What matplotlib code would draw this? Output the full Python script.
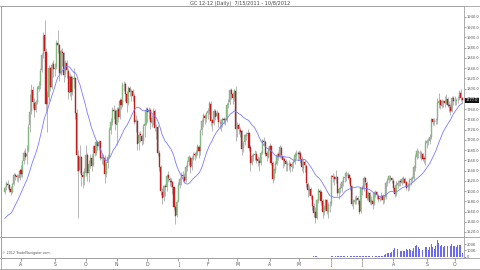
import numpy as np
import pandas as pd
import matplotlib
matplotlib.use("Agg")
import matplotlib.pyplot as plt
from matplotlib.lines import Line2D

# GC 12-12 daily, 7/15/2011 - 10/8/2012
holidays = ['2011-09-05', '2011-11-24', '2011-12-26', '2012-01-02', '2012-01-16',
            '2012-02-20', '2012-04-06', '2012-05-28', '2012-07-04', '2012-09-03']

# closes before the first bar, only used to seed the moving average
pre_closes = [1551, 1555, 1564, 1564, 1532, 1512, 1512, 1512, 1522, 1512, 1495, 1527,
              1540, 1542, 1554, 1558, 1575, 1597, 1598]

opens = [
    1598, 1607, 1614, 1611, 1603, 1599, 1614, 1631, 1630, 1627, 1626,
    1641, 1634, 1658, 1675, 1668, 1680, 1728, 1756, 1797, 1772, 1759, 1774, 1800, 1807, 1836, 1867, 1904, 1872, 1770, 1784, 1840, 1804, 1848,
    1838, 1842, 1890, 1885, 1831, 1872, 1869, 1828, 1851, 1835, 1792, 1823, 1794, 1819, 1820, 1752, 1668, 1641, 1666, 1632, 1627,
    1636, 1671, 1636, 1654, 1664, 1650, 1687, 1674, 1696, 1687, 1697, 1663, 1667, 1664, 1634, 1654, 1667, 1720, 1734, 1759, 1756,
    1729, 1760, 1744, 1777, 1769, 1807, 1809, 1789, 1771, 1802, 1793, 1796, 1785, 1734, 1737, 1693, 1711, 1708, 1698, 1727, 1731,
    1760, 1754, 1759, 1733, 1744, 1756, 1723, 1725, 1674, 1647, 1599, 1588, 1610, 1607, 1631, 1624, 1620, 1617, 1607, 1568, 1553,
    1580, 1611, 1625, 1631, 1628, 1621, 1646, 1656, 1665, 1648, 1663, 1672, 1669, 1675, 1686, 1679, 1719, 1735, 1747, 1742,
    1753, 1756, 1770, 1738, 1732, 1756, 1746, 1752, 1735, 1733, 1731, 1741, 1737, 1738, 1768, 1773, 1797, 1789, 1781, 1796,
    1723, 1729, 1720, 1717, 1684, 1695, 1708, 1711, 1713, 1686, 1655, 1668, 1671, 1672, 1662, 1658, 1655, 1675, 1698, 1695, 1674, 1667,
    1681, 1688, 1654, 1625, 1640, 1652, 1672, 1667, 1685, 1669, 1662, 1658, 1651, 1653, 1652, 1647, 1654, 1657, 1669, 1674,
    1675, 1674, 1663, 1645, 1656, 1649, 1614, 1601, 1604, 1591, 1570, 1559, 1547, 1582, 1601, 1599, 1581, 1559, 1567, 1583, 1560, 1572,
    1575, 1629, 1627, 1624, 1627, 1597, 1603, 1606, 1617, 1625, 1629, 1634, 1632, 1625, 1609, 1575, 1579, 1583, 1586, 1581, 1561,
    1605, 1603, 1625, 1616, 1586, 1596, 1579, 1581, 1575, 1595, 1598, 1591, 1585, 1586, 1590, 1582, 1589, 1615, 1622, 1628, 1626,
    1620, 1605, 1595, 1611, 1617, 1619, 1616, 1622, 1624, 1617, 1607, 1608, 1621, 1624, 1626, 1645, 1667, 1677, 1675, 1673, 1672, 1664, 1663,
    1693, 1697, 1697, 1705, 1740, 1734, 1736, 1738, 1771, 1777, 1767, 1774, 1776, 1771, 1779, 1768, 1765, 1757, 1781,
    1775, 1776, 1779, 1781, 1792, 1781,
]
highs = [
    1610, 1620, 1622, 1614, 1610, 1616, 1636, 1635, 1634, 1633, 1643,
    1650, 1660, 1680, 1684, 1690, 1730, 1790, 1810, 1805, 1782, 1778, 1805, 1815, 1840, 1870, 1910, 1935, 1880, 1795, 1846, 1842, 1852, 1855,
    1850, 1895, 1915, 1888, 1877, 1880, 1872, 1856, 1855, 1840, 1830, 1826, 1825, 1840, 1822, 1760, 1680, 1690, 1668, 1640, 1645,
    1690, 1675, 1660, 1672, 1672, 1690, 1692, 1700, 1698, 1700, 1698, 1675, 1672, 1670, 1658, 1672, 1725, 1742, 1765, 1768, 1760,
    1765, 1765, 1782, 1780, 1812, 1815, 1812, 1795, 1805, 1806, 1800, 1800, 1792, 1748, 1740, 1715, 1718, 1712, 1730, 1735, 1765,
    1765, 1765, 1762, 1748, 1762, 1760, 1730, 1728, 1680, 1650, 1605, 1612, 1614, 1634, 1640, 1628, 1625, 1620, 1610, 1573, 1582,
    1618, 1628, 1638, 1640, 1635, 1650, 1660, 1670, 1668, 1668, 1676, 1677, 1680, 1692, 1690, 1722, 1740, 1752, 1750, 1755,
    1762, 1775, 1775, 1740, 1760, 1760, 1758, 1755, 1740, 1740, 1745, 1745, 1742, 1772, 1780, 1800, 1802, 1793, 1800, 1805,
    1735, 1733, 1726, 1720, 1698, 1712, 1715, 1721, 1716, 1690, 1672, 1675, 1680, 1678, 1668, 1666, 1678, 1702, 1705, 1700, 1678, 1686,
    1693, 1690, 1658, 1645, 1658, 1675, 1676, 1690, 1688, 1668, 1666, 1662, 1658, 1660, 1656, 1657, 1662, 1676, 1680, 1678,
    1680, 1678, 1668, 1662, 1660, 1652, 1618, 1612, 1608, 1594, 1576, 1568, 1585, 1606, 1604, 1602, 1585, 1572, 1585, 1584, 1578, 1580,
    1632, 1635, 1632, 1642, 1630, 1608, 1615, 1622, 1630, 1634, 1640, 1638, 1634, 1628, 1612, 1585, 1590, 1592, 1590, 1584, 1608,
    1612, 1630, 1628, 1620, 1600, 1598, 1590, 1588, 1600, 1602, 1600, 1595, 1590, 1598, 1594, 1592, 1620, 1625, 1632, 1632, 1628,
    1625, 1612, 1620, 1622, 1622, 1624, 1628, 1630, 1628, 1620, 1615, 1625, 1628, 1630, 1650, 1672, 1685, 1680, 1680, 1678, 1675, 1668, 1700,
    1702, 1703, 1712, 1742, 1742, 1742, 1742, 1782, 1792, 1778, 1780, 1778, 1785, 1790, 1783, 1775, 1770, 1785, 1785,
    1785, 1782, 1785, 1798, 1800, 1784,
]
lows = [
    1594, 1602, 1606, 1598, 1592, 1596, 1611, 1622, 1619, 1618, 1622,
    1627, 1628, 1652, 1660, 1652, 1676, 1715, 1750, 1762, 1745, 1755, 1770, 1795, 1800, 1832, 1860, 1865, 1757, 1715, 1775, 1795, 1800, 1822,
    1825, 1838, 1870, 1815, 1826, 1845, 1812, 1822, 1820, 1780, 1785, 1778, 1788, 1802, 1740, 1640, 1548, 1635, 1610, 1605, 1612,
    1630, 1620, 1618, 1645, 1640, 1648, 1668, 1670, 1680, 1680, 1660, 1652, 1650, 1615, 1628, 1645, 1664, 1712, 1728, 1740, 1720,
    1690, 1735, 1740, 1760, 1765, 1795, 1775, 1755, 1768, 1785, 1775, 1775, 1730, 1715, 1680, 1680, 1695, 1690, 1692, 1705, 1728,
    1735, 1740, 1722, 1725, 1728, 1718, 1702, 1668, 1640, 1592, 1575, 1580, 1590, 1600, 1618, 1610, 1607, 1595, 1562, 1535, 1550,
    1578, 1605, 1612, 1618, 1615, 1618, 1640, 1650, 1635, 1642, 1660, 1660, 1664, 1670, 1665, 1670, 1710, 1725, 1730, 1735,
    1740, 1750, 1727, 1718, 1728, 1738, 1740, 1725, 1722, 1718, 1725, 1730, 1728, 1735, 1762, 1770, 1780, 1770, 1775, 1698,
    1705, 1712, 1705, 1670, 1676, 1690, 1700, 1702, 1678, 1640, 1650, 1658, 1660, 1655, 1648, 1640, 1650, 1672, 1690, 1668, 1658, 1664,
    1670, 1650, 1615, 1622, 1635, 1650, 1660, 1664, 1665, 1645, 1648, 1640, 1640, 1642, 1638, 1640, 1645, 1652, 1662, 1660,
    1660, 1655, 1640, 1635, 1638, 1608, 1588, 1592, 1585, 1562, 1550, 1537, 1545, 1576, 1585, 1572, 1548, 1553, 1562, 1556, 1548, 1560,
    1570, 1618, 1612, 1615, 1590, 1585, 1596, 1598, 1610, 1618, 1620, 1624, 1615, 1602, 1570, 1565, 1574, 1575, 1575, 1555, 1558,
    1592, 1600, 1612, 1582, 1583, 1574, 1572, 1565, 1572, 1588, 1585, 1578, 1580, 1582, 1575, 1577, 1585, 1610, 1615, 1620, 1615,
    1600, 1588, 1590, 1606, 1610, 1610, 1612, 1615, 1612, 1602, 1600, 1602, 1612, 1618, 1620, 1640, 1662, 1665, 1665, 1660, 1658, 1655, 1650,
    1685, 1690, 1692, 1702, 1728, 1728, 1730, 1730, 1762, 1760, 1762, 1765, 1765, 1770, 1764, 1754, 1748, 1755, 1768,
    1768, 1768, 1772, 1778, 1775, 1772,
]
closes = [
    1606, 1615, 1612, 1602, 1598, 1613, 1632, 1629, 1628, 1627, 1640,
    1633, 1657, 1674, 1667, 1673, 1726, 1755, 1798, 1773, 1758, 1773, 1801, 1806, 1835, 1865, 1903, 1873, 1770, 1783, 1841, 1803, 1847, 1839,
    1841, 1889, 1886, 1830, 1873, 1870, 1827, 1850, 1836, 1793, 1824, 1793, 1818, 1821, 1753, 1670, 1640, 1667, 1631, 1628, 1637,
    1670, 1635, 1653, 1665, 1649, 1686, 1675, 1695, 1688, 1696, 1664, 1666, 1665, 1633, 1653, 1666, 1719, 1735, 1758, 1757, 1730,
    1759, 1745, 1776, 1768, 1808, 1808, 1790, 1772, 1801, 1794, 1795, 1786, 1735, 1738, 1692, 1710, 1709, 1697, 1726, 1730, 1759,
    1755, 1758, 1734, 1743, 1757, 1724, 1724, 1675, 1646, 1600, 1587, 1609, 1608, 1630, 1625, 1621, 1618, 1608, 1569, 1552, 1578,
    1612, 1624, 1632, 1629, 1620, 1647, 1655, 1666, 1647, 1664, 1671, 1670, 1674, 1687, 1678, 1718, 1736, 1748, 1743, 1752,
    1757, 1771, 1737, 1733, 1757, 1745, 1753, 1734, 1734, 1732, 1740, 1738, 1737, 1769, 1772, 1798, 1790, 1782, 1797, 1722,
    1728, 1721, 1716, 1683, 1694, 1709, 1710, 1714, 1685, 1654, 1669, 1670, 1673, 1661, 1659, 1654, 1674, 1699, 1696, 1673, 1668, 1680,
    1687, 1655, 1624, 1641, 1653, 1671, 1668, 1686, 1670, 1661, 1659, 1652, 1652, 1653, 1648, 1653, 1656, 1670, 1673, 1674,
    1673, 1662, 1646, 1655, 1650, 1615, 1602, 1603, 1590, 1571, 1558, 1548, 1583, 1602, 1598, 1580, 1560, 1566, 1582, 1561, 1573, 1573,
    1630, 1628, 1623, 1628, 1596, 1604, 1605, 1618, 1626, 1628, 1635, 1633, 1626, 1610, 1574, 1580, 1582, 1585, 1582, 1560, 1606,
    1604, 1626, 1617, 1587, 1597, 1578, 1582, 1574, 1596, 1597, 1592, 1584, 1587, 1591, 1583, 1588, 1616, 1621, 1629, 1627, 1621,
    1606, 1594, 1612, 1616, 1618, 1617, 1623, 1625, 1616, 1606, 1609, 1622, 1623, 1625, 1646, 1666, 1678, 1676, 1674, 1673, 1663, 1662, 1694,
    1698, 1698, 1706, 1741, 1735, 1737, 1737, 1772, 1776, 1768, 1775, 1775, 1772, 1780, 1769, 1766, 1756, 1782, 1776,
    1776, 1778, 1780, 1793, 1782, 1777,
]
volumes = [
    900, 1100, 1000, 1200, 800, 900, 1300, 1100, 1000, 1200, 1500,
    1500, 1800, 2200, 2600, 3000, 5200, 6100, 5800, 4200, 3500, 2800, 3400, 3000, 4100, 5000, 6200, 7500, 8200, 6000, 4800, 3600, 3300, 2900,
    3100, 3800, 5200, 4600, 3900, 3200, 3600, 2900, 2700, 3000, 2600, 2500, 2700, 2800, 4500, 6800, 7200, 4800, 3900, 3100, 2800,
    2600, 3000, 2700, 2400, 2200, 2100, 2300, 2000, 1900, 1800, 2000, 2100, 1900, 2400, 2200, 2000, 2700, 2900, 3300, 2600, 2400,
    3100, 2800, 2600, 2500, 3000, 3200, 2900, 2700, 2600, 2400, 2300, 2500, 3100, 2800, 3000, 2600, 2400, 1500, 2200, 2100, 2600,
    2500, 2300, 2400, 2200, 2600, 2800, 2500, 3200, 3500, 4800, 4200, 3300, 2600, 2800, 2500, 2300, 2000, 1800, 2600, 3100, 2500,
    2900, 2600, 2800, 2500, 2300, 2600, 2700, 3000, 2500, 2600, 2800, 2700, 2500, 2900, 2600, 3500, 3800, 3300, 2900, 3100,
    3000, 3300, 3100, 2700, 2800, 2600, 2500, 2700, 2400, 2300, 2500, 2400, 2300, 2800, 2700, 3500, 3200, 2900, 3300, 5500,
    4000, 3200, 3000, 4200, 3500, 3100, 2900, 2800, 3500, 4800, 4000, 3300, 2900, 3100, 3000, 3200, 3500, 4100, 3600, 3700, 3300, 3100,
    3300, 4000, 5200, 4300, 3600, 3900, 3500, 3800, 4000, 3700, 3400, 3300, 3500, 3200, 3600, 3800, 3500, 4300, 4100, 3800,
    4200, 4600, 5000, 4800, 4500, 6200, 6800, 6000, 6500, 7200, 7800, 8500, 8800, 7400, 6300, 6900, 7600, 7000, 6200, 6700, 6900, 7400,
    9500, 8200, 7600, 8500, 9800, 8900, 8000, 8300, 8700, 8600, 8800, 8500, 9100, 10500, 13800, 12400, 11000, 11500, 10800, 13000, 14500,
    12500, 14200, 13800, 15500, 13000, 14500, 13800, 16000, 15200, 14800, 15500, 16800, 17200, 18500, 20500, 24000, 42000, 55000, 62000, 68000, 72000,
    115000, 140000, 155000, 120000, 95000, 88000, 92000, 85000, 98000, 125000, 112000, 118000, 105000, 92000, 145000, 168000, 178000, 150000, 128000, 120000, 115000, 102000, 155000,
    148000, 112000, 160000, 205000, 150000, 125000, 168000, 262000, 210000, 165000, 185000, 155000, 170000, 195000, 172000, 180000, 162000, 198000, 176000,
    165000, 150000, 178000, 192000, 185000, 62000,
]

price_ticks = list(range(1520, 1941, 20))
vol_ticks = [0, 100000, 200000]
vol_labels = ['0', '100K', '200K']

dates = pd.bdate_range('2011-07-15', '2012-10-08')
dates = dates[~dates.isin(pd.to_datetime(holidays))]
n = min(len(dates), len(closes))
dates = dates[:n]
o = np.array(opens[:n], float)
h = np.array(highs[:n], float)
l = np.array(lows[:n], float)
c = np.array(closes[:n], float)
v = np.array(volumes[:n], float)
x = np.arange(n)

# 20 day simple moving average
allc = pd.Series(pre_closes + list(c))
ma = allc.rolling(20).mean().values[len(pre_closes):]

fig = plt.figure(figsize=(4.8, 2.7), dpi=100)
ax = fig.add_axes([1 / 480, 1 - 237 / 270, 463 / 480, 231 / 270])
axv = fig.add_axes([1 / 480, 1 - 258 / 270, 463 / 480, 21 / 270], sharex=ax)

up = c >= o
green, red = '#8cc98c', '#d42222'
ax.vlines(x, l, h, color='#9a9a9a', lw=0.5, zorder=1)
body = np.maximum(np.abs(c - o), 0.6)
ax.bar(x[up], body[up], bottom=np.minimum(o, c)[up], width=0.75,
       color=green, edgecolor='#6f9f6f', lw=0.25, zorder=2)
ax.bar(x[~up], body[~up], bottom=np.minimum(o, c)[~up], width=0.75,
       color=red, edgecolor='#a01515', lw=0.25, zorder=2)
ax.plot(x, ma, color='#7b7bff', lw=0.6, zorder=3)

ax.set_xlim(-2.6, 312.2)
ax.set_ylim(1510.2, 1961.4)
ax.yaxis.tick_right()
ax.set_yticks(price_ticks)
ax.set_yticklabels(['%.1f' % p for p in price_ticks])
ax.tick_params(axis='y', length=1.5, width=0.4, labelsize=2.6, colors='#555555', pad=0.6)
ax.tick_params(axis='x', bottom=False, labelbottom=False)
for s in ax.spines.values():
    s.set_color('#a0a0a0')
    s.set_linewidth(0.6)

# last price box
ax.annotate('%.1f' % c[-1], xy=(1.0, c[-1]), xycoords=('axes fraction', 'data'),
            xytext=(1.1, 0), textcoords='offset points', va='center', ha='left',
            fontsize=2.6, color='white', zorder=10, annotation_clip=False,
            bbox=dict(boxstyle='square,pad=0.2', fc='#111111', ec='none'))

axv.bar(x, v, width=0.6, color='#6b6bf2', lw=0)
axv.set_ylim(-15400, 307700)
axv.yaxis.tick_right()
axv.set_yticks(vol_ticks)
axv.set_yticklabels(vol_labels)
axv.tick_params(axis='y', length=1.5, width=0.4, labelsize=2.6, colors='#555555', pad=0.6)

month_pos = [i for i in range(1, n) if dates[i].month != dates[i - 1].month]
month_lab = [dates[i].strftime('%b')[0] for i in month_pos]
axv.set_xticks(month_pos)
axv.set_xticklabels(month_lab)
axv.tick_params(axis='x', length=2, width=0.4, labelsize=3.3, colors='#555555', pad=1)
for s in axv.spines.values():
    s.set_color('#a0a0a0')
    s.set_linewidth(0.6)

axv.text(0.003, 0.12, '\u00a9 2012 TradeNavigator.com', transform=axv.transAxes,
         fontsize=2.4, color='#555555', va='bottom', ha='left')

fig.text(0.5, 1 - 3 / 270, 'GC 12-12 (Daily)  7/15/2011 - 10/8/2012', ha='center', va='center',
         fontsize=3.6, color='#444444')

# outer frame and full-width separators
for yy in [6, 237, 258, 269]:
    fig.add_artist(Line2D([0, 1], [1 - yy / 270, 1 - yy / 270], color='#a0a0a0', lw=0.6,
                          transform=fig.transFigure))
fig.add_artist(Line2D([0.5 / 480, 0.5 / 480], [1 - 269 / 270, 1 - 6 / 270], color='#a0a0a0',
                      lw=0.6, transform=fig.transFigure))

fig.savefig('out.png', dpi=100)
